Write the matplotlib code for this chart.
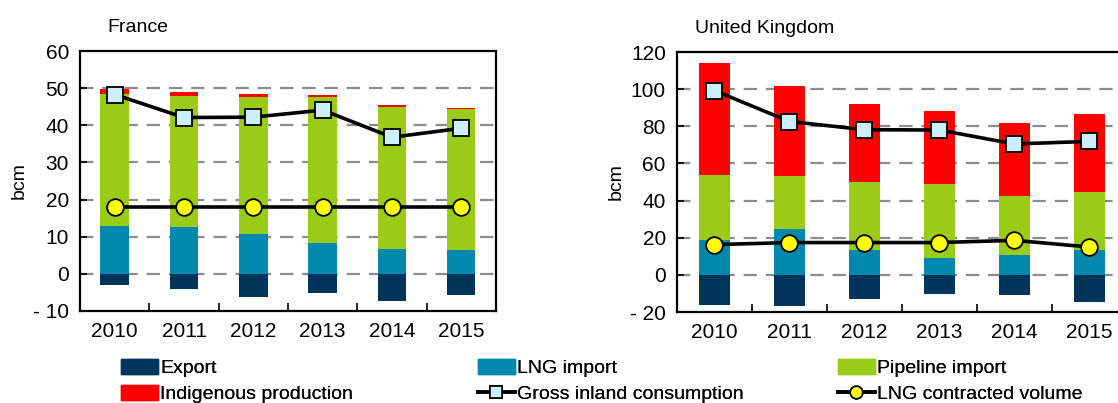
import numpy as np
import matplotlib
matplotlib.use('Agg')
import matplotlib.pyplot as plt
from matplotlib.ticker import FuncFormatter, FixedLocator
from matplotlib.lines import Line2D
from matplotlib.patches import Patch

plt.rcParams['font.family'] = ['Liberation Sans', 'DejaVu Sans']

years = ['2010', '2011', '2012', '2013', '2014', '2015']

# France (bcm)
fr_export = [-3.1, -4.0, -6.3, -5.2, -7.3, -5.6]
fr_lng = [13.0, 12.5, 10.8, 8.2, 6.8, 6.3]
fr_pipe = [35.5, 35.5, 36.7, 39.5, 38.2, 38.0]
fr_indig = [1.2, 1.0, 0.9, 0.6, 0.4, 0.4]
fr_gic = [48.3, 42.1, 42.2, 44.1, 36.8, 39.2]
fr_lngc = [18, 18, 18, 18, 18, 18]

# United Kingdom (bcm)
uk_export = [-16.3, -17.0, -13.2, -10.2, -10.7, -14.5]
uk_lng = [18.6, 24.9, 13.6, 9.1, 10.9, 13.6]
uk_pipe = [35.1, 28.4, 36.5, 39.7, 31.5, 30.8]
uk_indig = [60.4, 48.5, 41.7, 39.2, 39.4, 42.0]
uk_gic = [99.3, 82.6, 78.2, 78.0, 70.5, 71.9]
uk_lngc = [16.3, 17.4, 17.4, 17.4, 18.6, 15.0]

c_export = '#00355b'
c_lng = '#0089ad'
c_pipe = '#9acb17'
c_indig = '#ff0000'
c_gic = '#cdeefb'
c_lngc = '#ffff00'

fig = plt.figure(figsize=(11.18, 4.03), dpi=100)
ax1 = fig.add_axes([0.0716, 0.2283, 0.372, 0.645])
ax2 = fig.add_axes([0.6055, 0.2258, 0.4025, 0.645])


def fmt(v, pos):
    v = int(round(v))
    return '- %d' % -v if v < 0 else '%d' % v


def draw(ax, title, export, lng, pipe, indig, gic, lngc, ylim, step, tx):
    x = np.arange(len(years))
    w = 0.41
    lng = np.array(lng)
    pipe = np.array(pipe)
    ax.bar(x, export, w, color=c_export, zorder=2)
    ax.bar(x, lng, w, color=c_lng, zorder=2)
    ax.bar(x, pipe, w, bottom=lng, color=c_pipe, zorder=2)
    ax.bar(x, indig, w, bottom=lng + pipe, color=c_indig, zorder=2)
    ax.plot(x, gic, color='black', lw=2.6, marker='s', ms=12, mfc=c_gic,
            mec='black', mew=1.3, zorder=4)
    ax.plot(x, lngc, color='black', lw=2.6, marker='o', ms=12, mfc=c_lngc,
            mec='black', mew=1.3, zorder=4)

    ax.set_xlim(-0.5, len(years) - 0.5)
    ax.set_ylim(*ylim)
    ax.set_yticks(np.arange(ylim[0], ylim[1] + 1, step))
    ax.yaxis.set_major_formatter(FuncFormatter(fmt))
    for t in np.arange(ylim[0] + step, ylim[1], step):
        ax.axhline(t, color='#8c8c8c', lw=1.6, ls=(0, (6, 4)), zorder=1)
    ax.set_xticks(x)
    ax.set_xticklabels(years)
    ax.xaxis.set_minor_locator(FixedLocator(x[:-1] + 0.5))
    ax.tick_params(axis='x', which='major', length=0, pad=8, labelsize=15)
    ax.tick_params(axis='x', which='minor', direction='in', length=6, width=1.2)
    ax.tick_params(axis='y', direction='in', length=5, width=1.2, labelsize=15, pad=8)
    for s in ax.spines.values():
        s.set_linewidth(1.6)
    ax.set_ylabel('bcm', fontsize=14, labelpad=4)
    ax.text(tx, 1.09, title, transform=ax.transAxes, fontsize=14,
            ha='left', va='center')


draw(ax1, 'France', fr_export, fr_lng, fr_pipe, fr_indig, fr_gic, fr_lngc,
     (-10, 60), 10, 0.065)
draw(ax2, 'United Kingdom', uk_export, uk_lng, uk_pipe, uk_indig, uk_gic, uk_lngc,
     (-20, 120), 20, 0.04)

columns = [
    ([Patch(color=c_export), Patch(color=c_indig)],
     ['Export', 'Indigenous production'], 121),
    ([Patch(color=c_lng),
      Line2D([], [], color='black', lw=2.6, marker='s', ms=9, mfc=c_gic, mec='black', mew=1.2)],
     ['LNG import', 'Gross inland consumption'], 478),
    ([Patch(color=c_pipe),
      Line2D([], [], color='black', lw=2.6, marker='o', ms=9, mfc=c_lngc, mec='black', mew=1.2)],
     ['Pipeline import', 'LNG contracted volume'], 838),
]
for hs, ls, px in columns:
    leg = fig.legend(hs, ls, loc='upper left', bbox_to_anchor=(px / 1118, 0.11),
                     frameon=False, fontsize=14, handlelength=1.9, handleheight=0.8,
                     handletextpad=0.1, labelspacing=0.42,
                     borderpad=0, borderaxespad=0)
    fig.add_artist(leg)

fig.savefig('out.png', dpi=100)
